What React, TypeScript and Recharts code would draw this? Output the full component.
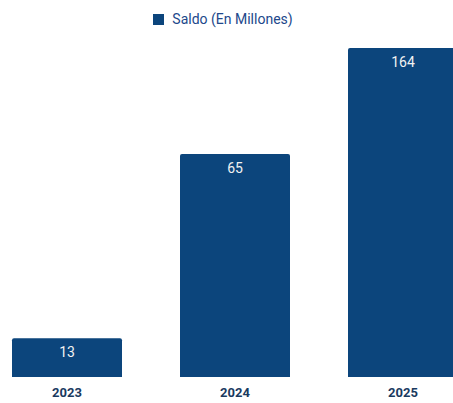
import { BarChart, Bar, XAxis, YAxis, LabelList } from 'recharts';

const years = ['2023', '2024', '2025'];
const saldo = [13, 65, 164];
const seriesName = 'Saldo (En Millones)';

const data = years.map((year, i) => ({ year, saldo: saldo[i] }));

const BAR_COLOR = '#0c457c';
const FONT = 'Roboto, "Noto Sans", sans-serif';

export default function App() {
  return (
    <div style={{ position: 'absolute', left: 0, top: 0, width: 453, height: 403, overflow: 'hidden' }}>
      {/* leyenda */}
      <div
        style={{
          position: 'absolute', top: 11, left: 0, width: 446,
          display: 'flex', justifyContent: 'center', alignItems: 'center', fontFamily: FONT,
        }}
      >
        <span style={{ display: 'inline-block', width: 11, height: 11, background: BAR_COLOR, marginRight: 8 }} />
        <span style={{ fontSize: 14, color: '#22488b' }}>{seriesName}</span>
      </div>
      <BarChart
        width={453}
        height={403}
        data={data}
        margin={{ top: 48, right: -34, bottom: 0, left: -17 }}
        style={{ fontFamily: FONT }}
      >
        <XAxis
          dataKey="year"
          axisLine={false}
          tickLine={false}
          height={26}
          tickMargin={5}
          tick={{ fill: '#1a3a5f', fontSize: 13, fontWeight: 'bold' }}
        />
        <YAxis hide type="number" scale="log" domain={[9.27, 164]} allowDataOverflow />
        <Bar dataKey="saldo" name={seriesName} fill={BAR_COLOR} barSize={110} radius={[2, 2, 0, 0]} isAnimationActive={false}>
          <LabelList dataKey="saldo" position="insideTop" offset={9} fill="#f2f2f2" fontSize={14} />
        </Bar>
      </BarChart>
    </div>
  );
}
